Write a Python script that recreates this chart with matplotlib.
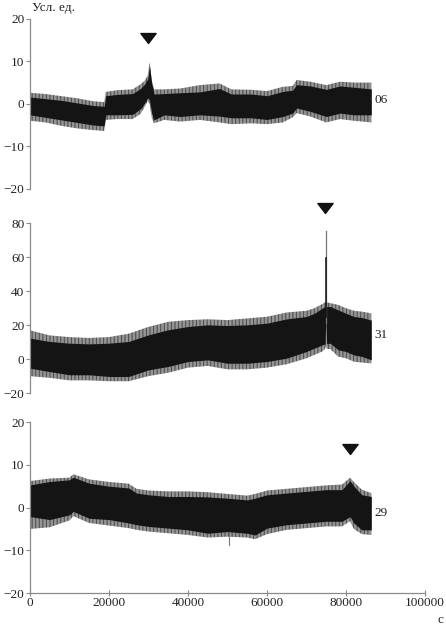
import matplotlib
matplotlib.use("Agg")
import matplotlib.pyplot as plt
from matplotlib.path import Path

plt.rcParams['font.family'] = ['Liberation Serif', 'DejaVu Serif']
plt.rcParams['hatch.linewidth'] = 0.7

# ---------------- data ----------------
# Panel "06": envelope of the noisy record (core = dense black band, outer = thin spikes)
x1 = [0, 4000, 8000, 12000, 16000, 18800, 19200, 22000, 26000, 28000, 29000,
      29800, 30300, 30800, 31400, 34000, 38000, 43000, 48000, 51000, 56000,
      60000, 64000, 66500, 67500, 71000, 75000, 78500, 82000, 86400]
up1 = [1.6, 1.2, 0.8, 0.2, -0.4, -0.6, 1.9, 2.2, 2.4, 3.6, 4.6,
       5.8, 8.8, 5.0, 2.3, 2.4, 2.6, 2.8, 3.6, 2.3, 2.3,
       1.9, 2.9, 3.2, 4.5, 4.2, 3.4, 4.2, 3.9, 3.5]
lo1 = [-2.6, -3.2, -3.8, -4.4, -5.0, -5.2, -2.6, -2.6, -2.5, -1.2, 0.1,
       1.4, 0.9, -2.2, -3.8, -2.6, -3.0, -2.6, -2.9, -3.3, -3.3,
       -3.7, -3.0, -2.2, -1.0, -1.8, -3.0, -2.2, -2.6, -2.6]
upo1 = [2.6, 2.3, 1.8, 1.3, 0.6, 0.4, 2.8, 3.2, 3.4, 4.6, 5.4,
        6.6, 9.8, 5.8, 3.4, 3.4, 3.6, 4.4, 4.8, 3.4, 3.3,
        3.0, 4.0, 4.2, 5.6, 5.2, 4.4, 5.2, 5.0, 5.0]
loo1 = [-4.0, -4.4, -5.2, -5.8, -6.2, -6.4, -3.8, -3.6, -3.6, -2.4, -0.8,
        0.6, 0.0, -3.2, -4.6, -3.8, -4.2, -3.8, -4.4, -4.8, -4.6,
        -4.8, -4.4, -3.2, -2.2, -3.0, -4.4, -3.6, -4.0, -4.4]

# Panel "31"
x2 = [0, 5000, 10000, 15000, 20000, 25000, 30000, 35000, 40000, 45000, 50000,
      55000, 60000, 65000, 70000, 72000, 74000, 74700, 74850, 74950, 75100,
      76000, 78000, 80000, 82000, 84000, 86400]
up2 = [12.4, 10.4, 9.4, 9.0, 9.4, 10.4, 14.3, 17.3, 19.2, 20.2, 19.8,
       20.2, 21.2, 23.7, 25.1, 27.0, 30.0, 31.0, 31.0, 31.0, 31.0,
       31.0, 29.0, 27.0, 25.1, 24.5, 23.0]
lo2 = [-5.3, -7.3, -9.2, -9.2, -10.2, -10.2, -6.3, -4.3, -1.4, -0.4, -2.4,
       -2.4, -1.4, 0.6, 4.5, 6.5, 8.4, 9.0, 21.0, 21.0, 9.0,
       9.4, 5.5, 4.5, 2.5, 1.6, -0.4]
upo2 = [17.0, 14.0, 13.0, 12.5, 13.0, 15.0, 19.0, 22.0, 23.0, 23.5, 23.0,
        24.0, 25.0, 27.5, 28.5, 30.0, 32.5, 33.5, 33.5, 33.5, 33.5,
        33.0, 32.0, 30.0, 28.5, 28.0, 27.0]
loo2 = [-10.0, -11.0, -12.5, -12.5, -13.0, -13.0, -10.0, -8.0, -5.0, -4.0, -6.0,
        -6.0, -5.0, -3.0, 0.5, 2.5, 4.5, 6.0, 7.4, 7.4, 6.0,
        6.0, 1.5, 0.5, -1.5, -2.0, -2.5]
spike2_x = 74900
spike2_top = 75.5
spike2_core = 59.8

# Panel "29"
x3 = [0, 5000, 10000, 11000, 15000, 20000, 25000, 27000, 30000, 35000, 40000,
      45000, 50000, 55000, 57000, 60000, 65000, 70000, 75000, 79000, 81000,
      82000, 84000, 86400]
up3 = [5.3, 6.1, 6.5, 7.1, 5.7, 5.0, 4.6, 3.4, 3.0, 2.6, 2.6,
       2.5, 2.2, 1.8, 2.2, 3.0, 3.4, 3.8, 4.2, 4.2, 6.3,
       5.0, 3.0, 2.6]
lo3 = [-2.1, -2.8, -1.7, -0.9, -2.5, -2.8, -3.6, -4.0, -4.4, -4.8, -5.2,
       -6.0, -5.6, -6.0, -6.4, -4.8, -4.0, -3.6, -3.2, -3.2, -2.1,
       -3.6, -5.2, -5.2]
upo3 = [6.2, 6.8, 7.0, 7.8, 6.6, 6.0, 5.6, 4.4, 4.0, 3.8, 3.8,
        3.6, 3.2, 2.8, 3.2, 4.0, 4.4, 4.8, 5.2, 5.4, 7.0,
        6.0, 4.2, 3.4]
loo3 = [-5.0, -4.6, -3.0, -2.0, -3.6, -4.2, -4.8, -5.2, -5.6, -6.0, -6.4,
        -7.0, -6.8, -7.0, -7.4, -6.2, -5.2, -4.8, -4.4, -4.4, -3.2,
        -5.0, -6.2, -6.4]
spike3_x = 50500
spike3_bottom = -8.7

labels = ["06", "31", "29"]
label_y = [0.8, 14.0, -1.2]
marker_x = [29950, 74700, 81000]
marker_y = [15.6, 89.0, 13.7]
ylims = [(-20, 20), (-20, 80), (-20, 20)]
yticks = [[-20, -10, 0, 10, 20], [-20, 0, 20, 40, 60, 80], [-20, -10, 0, 10, 20]]
xticks = [0, 20000, 40000, 60000, 80000, 100000]

# ---------------- figure ----------------
fig = plt.figure(figsize=(4.46, 6.29), dpi=100)
rects = [(0.067, 0.700, 0.886, 0.270),
         (0.067, 0.375, 0.886, 0.270),
         (0.067, 0.057, 0.886, 0.272)]

tri = Path([(-1, 0.65), (1, 0.65), (0, -0.65), (-1, 0.65)],
           [Path.MOVETO, Path.LINETO, Path.LINETO, Path.CLOSEPOLY])

series = [(x1, up1, lo1, upo1, loo1), (x2, up2, lo2, upo2, loo2),
          (x3, up3, lo3, upo3, loo3)]
spine_col = '#8a8a8a'
text_col = '#222222'
fs = 9.5

axes = []
for i, r in enumerate(rects):
    ax = fig.add_axes(r)
    axes.append(ax)
    xs, up, lo, upo, loo = series[i]
    ax.fill_between(xs, loo, upo, facecolor='none', edgecolor='#4a4a4a',
                    hatch='||||||||||||', lw=0)
    ax.fill_between(xs, lo, up, color='#141414', lw=0)
    ax.set_xlim(0, 100000)
    ax.set_ylim(*ylims[i])
    ax.set_yticks(yticks[i])
    ax.tick_params(axis='y', direction='out', length=3, width=0.8,
                   color=spine_col, labelsize=fs, pad=1, labelcolor=text_col)
    for s in ['top', 'right']:
        ax.spines[s].set_visible(False)
    ax.spines['left'].set_color(spine_col)
    ax.spines['left'].set_linewidth(0.9)
    if i < 2:
        ax.spines['bottom'].set_visible(False)
        ax.set_xticks([])
    else:
        ax.spines['bottom'].set_color(spine_col)
        ax.spines['bottom'].set_linewidth(0.9)
        ax.set_xticks(xticks)
        ax.set_xticklabels([str(t) for t in xticks])
        ax.tick_params(axis='x', direction='inout', length=4, width=0.8,
                       color=spine_col, labelsize=fs, pad=1, labelcolor=text_col)
    ax.plot([marker_x[i]], [marker_y[i]], marker=tri, ms=11, color='#111111',
            ls='none', clip_on=False)
    ax.text(87300, label_y[i], labels[i], fontsize=fs, color=text_col,
            va='center', ha='left')
    ax.patch.set_visible(False)

# spike of panel 31
axes[1].plot([spike2_x, spike2_x], [21.0, spike2_top], color='#777777', lw=0.9)
axes[1].plot([spike2_x, spike2_x], [25.0, spike2_core], color='#111111', lw=1.1)
# downward spike in panel 29
axes[2].plot([spike3_x, spike3_x], [-5.6, spike3_bottom], color='#777777', lw=0.8)

fig.text(0.071, 0.997, "Усл. ед.", fontsize=fs, color=text_col,
         ha='left', va='top')
fig.text(0.994, 0.004, "с", fontsize=fs, color=text_col, ha='right', va='bottom')

fig.savefig("out.png", dpi=100)
